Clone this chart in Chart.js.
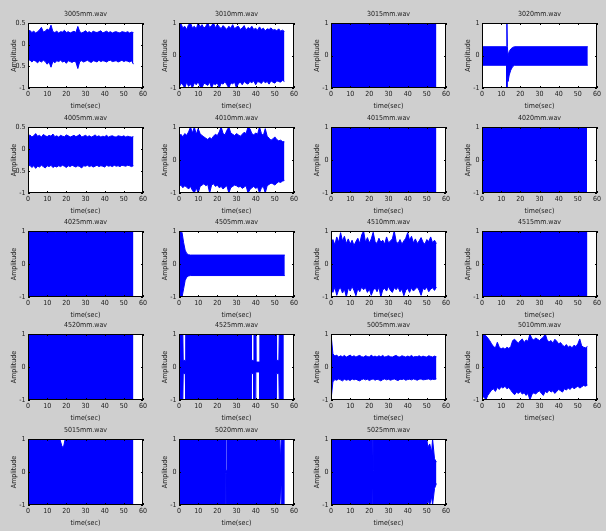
<!DOCTYPE html>
<html>
<head>
<meta charset="utf-8">
<script src="https://cdn.jsdelivr.net/npm/chart.js"></script>
<style>
  html, body { margin: 0; padding: 0; background: #cfcfcf; width: 606px; height: 531px; overflow: hidden; }
  #sheet { position: relative; width: 606px; height: 531px; }
  #sheet canvas { position: absolute; }
</style>
</head>
<body>
<div id="sheet"></div>
<script>
// ---- recordings (one panel per file) ----
const fileNames = [
  '3005mm.wav', '3010mm.wav', '3015mm.wav', '3020mm.wav',
  '4005mm.wav', '4010mm.wav', '4015mm.wav', '4020mm.wav',
  '4025mm.wav', '4505mm.wav', '4510mm.wav', '4515mm.wav',
  '4520mm.wav', '4525mm.wav', '5005mm.wav', '5010mm.wav',
  '5015mm.wav', '5020mm.wav', '5025mm.wav'
];

// ---- axis ticks ----
const timeTicks = [0, 10, 20, 30, 40, 50, 60];
const ampTicksFull = [-1, 0, 1];
const ampTicksHalf = [-1, -0.5, 0, 0.5];

// ---- envelope sample times (seconds) ----
const secondsAxis = [0,1,2,3,4,5,6,7,8,9,10,11,12,13,14,15,16,17,18,19,20,21,22,23,24,25,26,27,
  28,29,30,31,32,33,34,35,36,37,38,39,40,41,42,43,44,45,46,47,48,49,50,51,52,53,54,55];

// ---- waveform envelopes: upper / lower peak amplitude ----
const upper3005 = [0.30,0.33,0.28,0.31,0.27,0.30,0.34,0.40,0.29,0.31,0.36,0.33,0.45,0.30,0.28,0.31,0.27,0.30,0.29,0.33,
  0.28,0.30,0.27,0.29,0.31,0.28,0.42,0.30,0.27,0.29,0.32,0.28,0.30,0.27,0.31,0.29,0.28,0.30,0.32,0.27,
  0.29,0.31,0.28,0.30,0.27,0.29,0.30,0.28,0.27,0.30,0.29,0.28,0.30,0.27,0.29,0.28];
const lower3005 = [-0.38,-0.35,-0.40,-0.36,-0.38,-0.42,-0.37,-0.40,-0.36,-0.39,-0.45,-0.40,-0.52,-0.38,-0.42,-0.37,-0.39,-0.36,-0.40,-0.38,
  -0.43,-0.37,-0.39,-0.41,-0.38,-0.40,-0.55,-0.39,-0.37,-0.40,-0.38,-0.36,-0.39,-0.41,-0.37,-0.38,-0.40,-0.36,-0.39,-0.37,
  -0.38,-0.40,-0.37,-0.36,-0.39,-0.38,-0.37,-0.40,-0.38,-0.36,-0.39,-0.37,-0.38,-0.40,-0.37,-0.45];

const upper3010 = [1.0,0.98,0.85,0.90,0.80,0.95,1.0,0.85,0.90,0.82,1.0,0.88,0.95,0.84,0.90,1.0,0.86,0.92,1.0,0.85,
  0.96,0.88,0.83,0.92,0.86,0.80,0.90,0.84,0.95,0.82,0.88,0.90,0.80,0.85,0.92,0.78,0.86,0.82,0.90,0.80,
  0.84,0.78,0.88,0.80,0.84,0.76,0.82,0.80,0.85,0.78,0.80,0.76,0.82,0.75,0.78,0.74];
const lower3010 = [-1.0,-0.85,-0.90,-1.0,-0.82,-0.95,-0.88,-1.0,-0.84,-0.90,-0.80,-0.96,-1.0,-0.85,-0.88,-0.92,-0.82,-1.0,-0.86,-0.90,
  -0.84,-1.0,-0.85,-0.88,-0.80,-0.90,-1.0,-0.84,-0.87,-0.82,-1.0,-0.86,-0.82,-0.90,-0.80,-0.85,-0.88,-0.80,-0.84,-0.78,
  -0.90,-0.80,-0.82,-0.86,-0.78,-0.84,-0.80,-0.88,-0.78,-0.82,-0.85,-0.78,-0.80,-0.82,-0.76,-0.80];

const time3015 = [0, 55];
const upper3015 = [1, 1];
const lower3015 = [-1, -1];

const time3020 = [0, 12.8, 13.0, 13.2, 13.6, 14.2, 15.0, 16.0, 17.0, 55.2];
const upper3020 = [0.27, 0.27, 1.0, 0.28, 0.0, 0.12, 0.20, 0.25, 0.27, 0.27];
const lower3020 = [-0.30, -0.30, -1.0, -0.32, -0.80, -0.60, -0.45, -0.34, -0.30, -0.30];

const upper4005 = [0.28,0.32,0.27,0.30,0.35,0.29,0.31,0.27,0.33,0.30,0.28,0.31,0.29,0.34,0.28,0.30,0.27,0.31,0.29,0.28,
  0.32,0.30,0.27,0.29,0.31,0.28,0.30,0.33,0.27,0.29,0.31,0.28,0.30,0.27,0.29,0.32,0.28,0.30,0.27,0.29,
  0.28,0.31,0.27,0.29,0.30,0.28,0.27,0.30,0.29,0.28,0.30,0.27,0.29,0.28,0.27,0.28];
const lower4005 = [-0.40,-0.37,-0.42,-0.38,-0.44,-0.39,-0.41,-0.37,-0.40,-0.43,-0.38,-0.40,-0.37,-0.42,-0.39,-0.41,-0.38,-0.40,-0.37,-0.39,
  -0.42,-0.38,-0.40,-0.37,-0.39,-0.41,-0.38,-0.40,-0.43,-0.38,-0.39,-0.37,-0.40,-0.38,-0.41,-0.39,-0.37,-0.40,-0.38,-0.39,
  -0.41,-0.37,-0.39,-0.38,-0.40,-0.37,-0.39,-0.38,-0.40,-0.37,-0.38,-0.39,-0.37,-0.38,-0.40,-0.38];

const upper4010 = [0.72,0.78,0.70,0.80,0.75,0.85,1.0,0.82,1.0,0.78,0.95,0.80,0.74,0.70,0.66,0.62,0.68,0.64,0.72,0.78,
  0.74,0.85,1.0,0.80,0.76,0.90,1.0,0.82,0.78,0.74,0.80,0.76,0.72,0.78,0.84,0.80,1.0,0.95,0.80,0.76,
  0.82,0.78,1.0,0.80,0.74,0.95,0.72,0.66,0.60,0.64,0.70,0.62,0.58,0.60,0.56,0.55];
const lower4010 = [-0.80,-0.76,-0.84,-0.78,-0.82,-0.88,-0.80,-0.92,-1.0,-0.84,-1.0,-0.80,-0.76,-0.72,-0.78,-0.74,-1.0,-0.76,-0.72,-0.80,
  -0.76,-0.84,-0.80,-0.88,-0.82,-0.78,-1.0,-0.84,-0.80,-0.76,-0.78,-0.82,-0.80,-0.86,-0.82,-0.78,-1.0,-0.90,-0.84,-0.80,
  -0.86,-0.82,-1.0,-0.84,-0.80,-1.0,-0.78,-0.74,-0.70,-0.72,-0.76,-0.70,-0.66,-0.68,-0.64,-0.62];

const time4015 = [0, 55];
const upper4015 = [1, 1];
const lower4015 = [-1, -1];

const time4020 = [0, 54.8];
const upper4020 = [1, 1];
const lower4020 = [-1, -1];

const time4025 = [0, 7.6, 7.8, 8.0, 13.8, 14.0, 14.2, 55];
const upper4025 = [1, 1, 0.9, 1, 1, 0.75, 1, 1];
const lower4025 = [-1, -1, -1, -1, -1, -1, -1, -1];

const time4505 = [0, 0.8, 1.6, 2.4, 3.2, 4.0, 5.0, 6.0, 55.2];
const upper4505 = [1.0, 1.0, 0.95, 0.65, 0.42, 0.32, 0.28, 0.27, 0.27];
const lower4505 = [-1.0, -1.0, -1.0, -0.75, -0.50, -0.40, -0.36, -0.35, -0.35];

const upper4510 = [0.62,0.74,0.58,0.82,0.66,0.95,0.70,0.84,0.62,0.76,0.60,0.72,0.56,0.68,0.78,0.62,0.88,1.0,0.66,0.80,
  0.64,0.76,0.96,0.68,0.62,0.78,0.66,0.72,0.60,0.82,0.64,0.70,0.76,1.0,0.68,0.62,0.74,0.60,0.70,0.78,
  0.95,0.72,0.84,0.64,0.76,0.62,0.70,0.80,0.66,0.60,0.74,0.68,0.82,0.64,0.72,0.62];
const lower4510 = [-0.74,-0.86,-0.70,-0.95,-0.78,-0.72,-0.88,-0.76,-1.0,-0.72,-0.82,-0.68,-0.80,-0.96,-0.74,-0.84,-0.70,-0.78,-0.72,-0.86,
  -0.76,-0.95,-0.80,-0.72,-0.84,-0.70,-1.0,-0.78,-0.74,-0.82,-0.68,-0.80,-0.86,-0.72,-0.78,-0.70,-0.84,-0.76,-0.96,-0.80,
  -0.74,-0.86,-0.72,-0.82,-0.76,-0.70,-0.80,-0.95,-0.74,-0.78,-0.70,-0.84,-0.76,-0.72,-0.80,-0.70];

const time4515 = [0, 55];
const upper4515 = [1, 1];
const lower4515 = [-1, -1];

const time4520 = [0, 8.8, 9.0, 9.2, 55];
const upper4520 = [1, 1, 0.9, 1, 1];
const lower4520 = [-1, -1, -1, -1, -1];

const time4525 = [0, 2.0, 2.2, 3.3, 3.5, 37.6, 37.8, 38.9, 39.1, 39.9, 40.1, 42.0, 42.2, 50.7, 50.9, 52.1, 52.3, 54.7];
const upper4525 = [1, 1, 0.2, 0.2, 1, 1, 0.2, 0.2, 1, 1, 0.15, 0.15, 1, 1, 0.2, 0.2, 1, 1];
const lower4525 = [-1, -1, -0.2, -0.2, -1, -1, -0.2, -0.2, -1, -1, -0.15, -0.15, -1, -1, -0.2, -0.2, -1, -1];

const upper5005 = [1.0,0.40,0.33,0.36,0.30,0.34,0.31,0.35,0.30,0.33,0.36,0.31,0.34,0.30,0.33,0.35,0.31,0.30,0.34,0.32,
  0.30,0.36,0.31,0.33,0.30,0.34,0.31,0.35,0.30,0.32,0.34,0.31,0.30,0.33,0.35,0.31,0.30,0.34,0.32,0.30,
  0.33,0.31,0.35,0.30,0.32,0.31,0.34,0.30,0.33,0.31,0.30,0.34,0.32,0.30,0.33,0.31];
const lower5005 = [-1.0,-0.45,-0.38,-0.40,-0.36,-0.39,-0.42,-0.37,-0.40,-0.38,-0.41,-0.36,-0.39,-0.37,-0.40,-0.42,-0.38,-0.36,-0.39,-0.37,
  -0.41,-0.38,-0.36,-0.40,-0.37,-0.39,-0.42,-0.38,-0.36,-0.39,-0.37,-0.40,-0.38,-0.36,-0.39,-0.41,-0.37,-0.38,-0.36,-0.40,
  -0.38,-0.37,-0.39,-0.36,-0.38,-0.40,-0.37,-0.36,-0.39,-0.38,-0.37,-0.36,-0.39,-0.37,-0.38,-0.36];

const upper5010 = [0.92,1.0,0.95,0.88,0.80,0.70,0.62,0.58,0.75,0.60,0.55,0.58,0.54,0.60,0.56,0.62,0.80,0.84,0.78,0.72,
  0.80,0.85,0.74,0.82,0.78,1.0,0.86,0.82,0.88,0.84,0.80,0.86,0.90,1.0,0.82,0.76,0.80,0.72,0.84,0.78,
  0.70,0.74,0.66,0.62,0.68,0.60,0.64,0.58,0.66,0.62,0.70,0.85,0.64,0.60,0.58,0.62];
const lower5010 = [-0.95,-0.90,-1.0,-0.86,-0.78,-0.70,-0.66,-0.74,-0.62,-0.68,-0.60,-0.64,-0.58,-0.66,-0.62,-0.70,-0.78,-0.84,-0.76,-0.80,
  -0.74,-0.82,-0.78,-0.86,-0.80,-1.0,-0.84,-0.78,-0.82,-0.76,-0.72,-0.80,-0.86,-0.74,-0.78,-0.70,-0.76,-0.72,-0.80,-0.74,
  -0.68,-0.72,-0.76,-0.66,-0.70,-0.64,-0.68,-0.60,-0.66,-0.62,-0.58,-0.64,-0.60,-0.56,-0.58,-0.55];

const time5015 = [0, 2.8, 3.0, 3.2, 6.8, 7.0, 7.2, 9.8, 10.0, 10.2, 16.6, 17.6, 18.4, 19.4, 55];
const upper5015 = [1, 1, 0.85, 1, 1, 0.85, 1, 1, 0.9, 1, 1, 0.8, 0.72, 1, 1];
const lower5015 = [-1, -1, -1, -1, -1, -1, -1, -1, -1, -1, -1, -1, -1, -1, -1];

const time5020 = [0, 24.0, 24.3, 24.7, 25.0, 52.6, 52.8, 53.2, 53.4, 55.2];
const upper5020 = [1, 1, 0.05, 0.05, 1, 1, 0.3, 0.3, 1, 1];
const lower5020 = [-1, -1, -0.05, -0.05, -1, -1, -0.3, -0.3, -1, -1];

const time5025 = [0, 21.8, 22.0, 22.2, 45.4, 45.6, 45.8, 50.0, 50.5, 51.5, 52.5, 53.0, 54.0, 55.0];
const upper5025 = [1, 1, 0.05, 1, 1, 0.85, 1, 1, 0.75, 0.85, 0.6, 1, 0.4, 0.3];
const lower5025 = [-1, -1, -0.05, -1, -1, -0.9, -1, -1, -0.85, -1, -0.75, -1, -0.5, -0.35];

// ---- panel assembly ----
const panels = [
  { name: fileNames[0],  t: secondsAxis, hi: upper3005, lo: lower3005, yTicks: ampTicksHalf },
  { name: fileNames[1],  t: secondsAxis, hi: upper3010, lo: lower3010, yTicks: ampTicksFull },
  { name: fileNames[2],  t: time3015,    hi: upper3015, lo: lower3015, yTicks: ampTicksFull },
  { name: fileNames[3],  t: time3020,    hi: upper3020, lo: lower3020, yTicks: ampTicksFull },
  { name: fileNames[4],  t: secondsAxis, hi: upper4005, lo: lower4005, yTicks: ampTicksHalf },
  { name: fileNames[5],  t: secondsAxis, hi: upper4010, lo: lower4010, yTicks: ampTicksFull },
  { name: fileNames[6],  t: time4015,    hi: upper4015, lo: lower4015, yTicks: ampTicksFull },
  { name: fileNames[7],  t: time4020,    hi: upper4020, lo: lower4020, yTicks: ampTicksFull },
  { name: fileNames[8],  t: time4025,    hi: upper4025, lo: lower4025, yTicks: ampTicksFull },
  { name: fileNames[9],  t: time4505,    hi: upper4505, lo: lower4505, yTicks: ampTicksFull },
  { name: fileNames[10], t: secondsAxis, hi: upper4510, lo: lower4510, yTicks: ampTicksFull },
  { name: fileNames[11], t: time4515,    hi: upper4515, lo: lower4515, yTicks: ampTicksFull },
  { name: fileNames[12], t: time4520,    hi: upper4520, lo: lower4520, yTicks: ampTicksFull },
  { name: fileNames[13], t: time4525,    hi: upper4525, lo: lower4525, yTicks: ampTicksFull },
  { name: fileNames[14], t: secondsAxis, hi: upper5005, lo: lower5005, yTicks: ampTicksFull },
  { name: fileNames[15], t: secondsAxis, hi: upper5010, lo: lower5010, yTicks: ampTicksFull },
  { name: fileNames[16], t: time5015,    hi: upper5015, lo: lower5015, yTicks: ampTicksFull },
  { name: fileNames[17], t: time5020,    hi: upper5020, lo: lower5020, yTicks: ampTicksFull },
  { name: fileNames[18], t: time5025,    hi: upper5025, lo: lower5025, yTicks: ampTicksFull }
];

// ---- page geometry: plot-box origins of the 4 x 5 grid ----
const colLeft = [28, 179, 331, 482];
const rowTop = [23, 127, 231, 334, 439];
const rowHeight = [65, 66, 66, 66, 66];
const PLOT_W = 115;
const LEFT_GUTTER = 28;   // y tick labels + "Amplitude"
const TOP_GUTTER = 23;    // file name
const BOTTOM_GUTTER = 24; // x tick labels + "time(sec)"
const RIGHT_GUTTER = 8;

const BLUE = '#0000ff';
const INK = '#1a1a1a';
const FONT = "'Liberation Sans Narrow', 'DejaVu Sans Condensed', 'Arial Narrow', sans-serif";

// white plot box, black frame and inward tick marks in the MATLAB style
const matlabAxes = {
  id: 'matlabAxes',
  beforeDatasetsDraw(chart) {
    const { ctx, chartArea: a } = chart;
    ctx.save();
    ctx.fillStyle = '#ffffff';
    ctx.fillRect(a.left, a.top, a.right - a.left, a.bottom - a.top);
    ctx.restore();
  },
  afterDatasetsDraw(chart) {
    const { ctx, chartArea: a, scales } = chart;
    const len = 2;
    ctx.save();
    ctx.strokeStyle = '#000000';
    ctx.lineWidth = 1;
    ctx.beginPath();
    scales.x.ticks.forEach(tk => {
      const px = Math.round(scales.x.getPixelForValue(tk.value)) + 0.5;
      ctx.moveTo(px, a.bottom); ctx.lineTo(px, a.bottom - len);
      ctx.moveTo(px, a.top); ctx.lineTo(px, a.top + len);
    });
    scales.y.ticks.forEach(tk => {
      const py = Math.round(scales.y.getPixelForValue(tk.value)) + 0.5;
      ctx.moveTo(a.left, py); ctx.lineTo(a.left + len, py);
      ctx.moveTo(a.right, py); ctx.lineTo(a.right - len, py);
    });
    ctx.stroke();
    ctx.strokeRect(Math.round(a.left) + 0.5, Math.round(a.top) + 0.5,
                   Math.round(a.right - a.left) - 1, Math.round(a.bottom - a.top) - 1);
    ctx.restore();
  }
};

const sheet = document.getElementById('sheet');

panels.forEach((p, i) => {
  const col = i % 4, row = Math.floor(i / 4);
  const h = rowHeight[row];
  const canvas = document.createElement('canvas');
  const cw = LEFT_GUTTER + PLOT_W + RIGHT_GUTTER;
  const ch = TOP_GUTTER + h + BOTTOM_GUTTER;
  canvas.width = cw; canvas.height = ch;
  canvas.style.left = (colLeft[col] - LEFT_GUTTER) + 'px';
  canvas.style.top = (rowTop[row] - TOP_GUTTER) + 'px';
  canvas.style.width = cw + 'px'; canvas.style.height = ch + 'px';
  sheet.appendChild(canvas);

  const yMin = p.yTicks[0], yMax = p.yTicks[p.yTicks.length - 1];

  new Chart(canvas, {
    type: 'line',
    data: {
      datasets: [
        {
          data: p.t.map((x, k) => ({ x, y: p.hi[k] })),
          borderColor: BLUE, backgroundColor: BLUE, borderWidth: 1,
          pointRadius: 0, tension: 0, fill: '+1'
        },
        {
          data: p.t.map((x, k) => ({ x, y: p.lo[k] })),
          borderColor: BLUE, borderWidth: 1,
          pointRadius: 0, tension: 0, fill: false
        }
      ]
    },
    options: {
      responsive: false,
      animation: false,
      devicePixelRatio: 1,
      events: [],
      layout: { padding: { top: 0, right: RIGHT_GUTTER, bottom: 0, left: 0 } },
      plugins: {
        legend: { display: false },
        tooltip: { enabled: false },
        title: {
          display: true, text: p.name, color: INK, fullSize: false,
          font: { family: FONT, size: 7, weight: 'normal', lineHeight: 1 },
          padding: { top: 11, bottom: 5 }
        }
      },
      scales: {
        x: {
          type: 'linear', min: 0, max: 60,
          afterBuildTicks: s => { s.ticks = timeTicks.map(v => ({ value: v })); },
          afterFit: s => { s.height = BOTTOM_GUTTER; },
          grid: { display: false, drawTicks: false },
          border: { display: false },
          ticks: { color: INK, padding: 3, maxRotation: 0, autoSkip: false,
                   callback: v => String(v),
                   font: { family: FONT, size: 7, lineHeight: 1 } },
          title: { display: true, text: 'time(sec)', color: INK,
                   font: { family: FONT, size: 7, lineHeight: 1 },
                   padding: { top: 0, bottom: 2.5 } }
        },
        y: {
          type: 'linear', min: yMin, max: yMax,
          afterBuildTicks: s => { s.ticks = p.yTicks.map(v => ({ value: v })); },
          afterFit: s => { s.width = LEFT_GUTTER; },
          grid: { display: false, drawTicks: false },
          border: { display: false },
          ticks: { color: INK, padding: 2.5, autoSkip: false,
                   callback: v => String(v),
                   font: { family: FONT, size: 7, lineHeight: 1 } },
          title: { display: true, text: 'Amplitude', color: INK,
                   font: { family: FONT, size: 7, lineHeight: 1 },
                   padding: { top: 11, bottom: 0 } }
        }
      }
    },
    plugins: [matlabAxes]
  });
});
</script>
</body>
</html>
